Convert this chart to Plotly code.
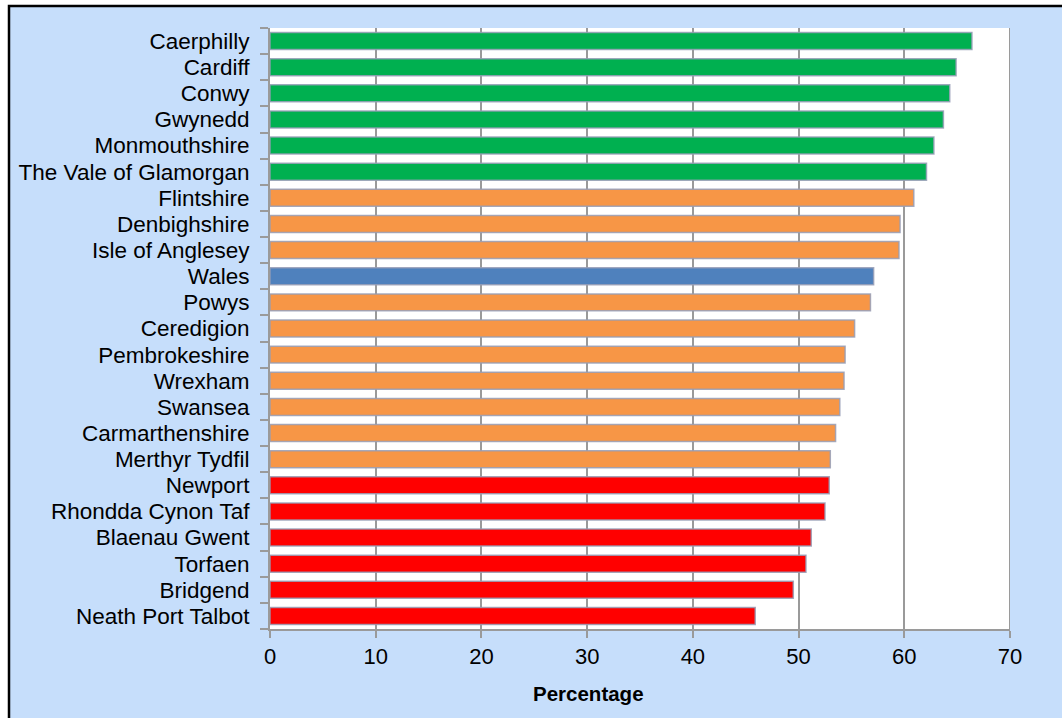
import plotly.graph_objects as go

# Share of people (%) by local authority, Wales average included
areas = [
    "Caerphilly", "Cardiff", "Conwy", "Gwynedd", "Monmouthshire",
    "The Vale of Glamorgan", "Flintshire", "Denbighshire", "Isle of Anglesey",
    "Wales", "Powys", "Ceredigion", "Pembrokeshire", "Wrexham", "Swansea",
    "Carmarthenshire", "Merthyr Tydfil", "Newport", "Rhondda Cynon Taf",
    "Blaenau Gwent", "Torfaen", "Bridgend", "Neath Port Talbot",
]
percentages = [
    66.4, 64.9, 64.3, 63.7, 62.8,
    62.1, 60.9, 59.6, 59.5,
    57.1, 56.8, 55.3, 54.4, 54.3, 53.9,
    53.5, 53.0, 52.9, 52.5,
    51.2, 50.7, 49.5, 45.9,
]
groups = [
    "high", "high", "high", "high", "high",
    "high", "mid", "mid", "mid",
    "wales", "mid", "mid", "mid", "mid", "mid",
    "mid", "mid", "low", "low",
    "low", "low", "low", "low",
]
x_ticks = [0, 10, 20, 30, 40, 50, 60, 70]

group_colors = {
    "high": "#00B050",
    "mid": "#F79646",
    "wales": "#4F81BD",
    "low": "#FF0000",
}

BG = "#C6DEFB"
GRID = "#9A9A9A"
FONT = "Liberation Sans, Arial, sans-serif"

fig = go.Figure(
    go.Bar(
        x=percentages,
        y=areas,
        orientation="h",
        marker=dict(
            color=[group_colors[g] for g in groups],
            line=dict(color="rgba(150,158,182,0.85)", width=1.5),
        ),
        hoverinfo="x+y",
    )
)

W, H = 1062, 718
ML, MR, MT, MB = 270, 52, 28, 89
pw, ph = W - ML - MR, H - MT - MB


def px_x(v):
    return (v - ML) / pw


def px_y(v):
    return (H - MB - v) / ph


fig.update_layout(
    width=W,
    height=H,
    margin=dict(l=ML, r=MR, t=MT, b=MB, pad=0),
    paper_bgcolor=BG,
    plot_bgcolor="white",
    bargap=0.35,
    showlegend=False,
    font=dict(family=FONT, color="black"),
    xaxis=dict(
        range=[0, 70],
        tickvals=x_ticks,
        ticktext=[str(t) for t in x_ticks],
        showgrid=True,
        gridcolor=GRID,
        gridwidth=2,
        zeroline=False,
        showline=True,
        linecolor=GRID,
        linewidth=2,
        ticks="outside",
        ticklen=7,
        tickwidth=2,
        tickcolor=GRID,
        tickfont=dict(size=22, family=FONT),
    ),
    yaxis=dict(
        type="category",
        categoryorder="array",
        categoryarray=areas,
        autorange="reversed",
        tickmode="array",
        tickvals=areas,
        ticktext=areas,
        showgrid=False,
        zeroline=False,
        showline=True,
        linecolor=GRID,
        linewidth=2,
        ticks="outside",
        tickson="boundaries",
        ticklen=8,
        tickwidth=2,
        tickcolor=GRID,
        tickfont=dict(size=22.5, family=FONT),
        ticklabelstandoff=14,
    ),
    annotations=[
        dict(
            text="<b>Percentage</b>",
            xref="paper", yref="paper",
            x=px_x(588.5), y=px_y(693),
            xanchor="center", yanchor="middle",
            showarrow=False,
            font=dict(size=20.5, family=FONT, color="black"),
        )
    ],
    shapes=[
        # right-hand edge of the value range
        dict(type="line", xref="x", yref="paper",
             x0=70, x1=70, y0=0, y1=1,
             line=dict(color=GRID, width=2), layer="above"),
        # white strip outside the chart frame
        dict(type="rect", xref="paper", yref="paper",
             x0=px_x(-20), x1=px_x(8), y0=px_y(H + 20), y1=px_y(-20),
             fillcolor="white", line=dict(width=0), layer="above"),
        dict(type="rect", xref="paper", yref="paper",
             x0=px_x(-20), x1=px_x(W + 20), y0=px_y(5), y1=px_y(-20),
             fillcolor="white", line=dict(width=0), layer="above"),
        # chart frame
        dict(type="rect", xref="paper", yref="paper",
             x0=px_x(9), x1=px_x(W + 20), y0=px_y(H + 20), y1=px_y(6),
             fillcolor="rgba(0,0,0,0)", line=dict(color="black", width=2.5),
             layer="above"),
    ],
)

fig.write_html("out.html")
